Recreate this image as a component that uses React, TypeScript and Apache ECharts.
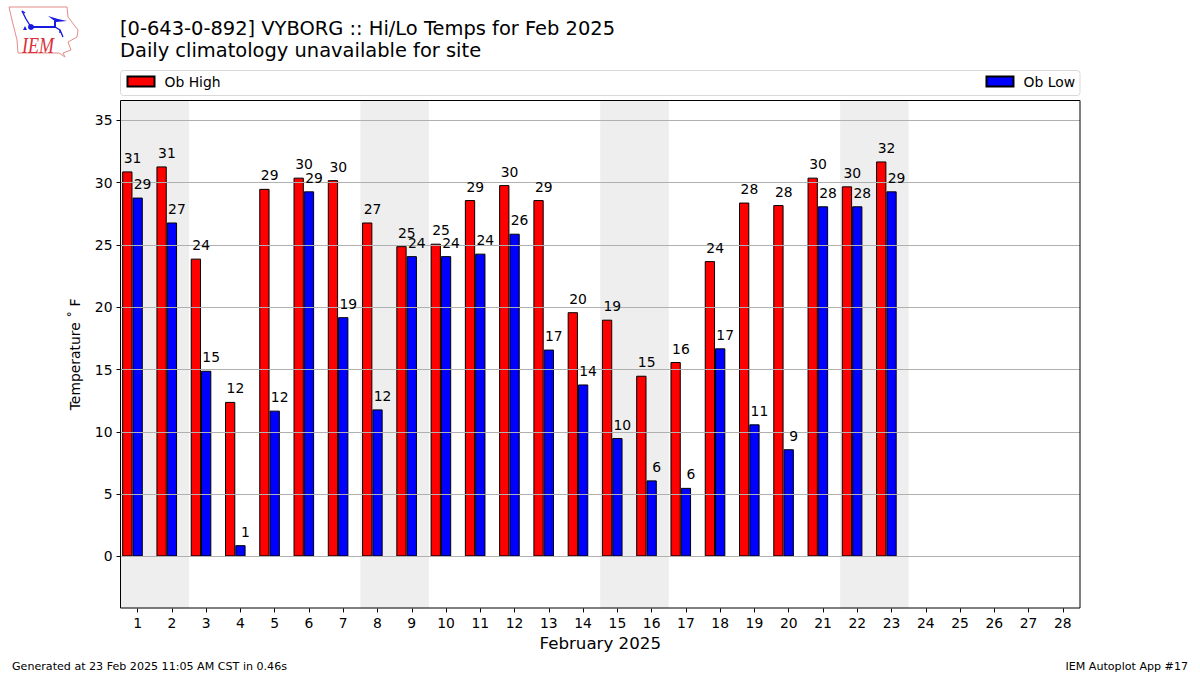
import React, { useEffect, useRef } from "react";
import * as echarts from "echarts";

const FONT = "DejaVu Sans";
const days = ["1","2","3","4","5","6","7","8","9","10","11","12","13","14","15","16","17","18","19","20","21","22","23","24","25","26","27","28"];
const highs = [30.9,31.3,23.9,12.4,29.5,30.4,30.2,26.8,24.9,25.1,28.6,29.8,28.6,19.6,19.0,14.5,15.6,23.7,28.4,28.2,30.4,29.7,31.7];
const lows = [28.8,26.8,14.9,0.9,11.7,29.3,19.2,11.8,24.1,24.1,24.3,25.9,16.6,13.8,9.5,6.1,5.5,16.7,10.6,8.6,28.1,28.1,29.3];
const highLabels = [31,31,24,12,29,30,30,27,25,25,29,30,29,20,19,15,16,24,28,28,30,30,32];
const lowLabels = [29,27,15,1,12,29,19,12,24,24,24,26,17,14,10,6,6,17,11,9,28,28,29];
const weekendStart = ["1","8","15","22"];
const weekendEnd = ["2","9","16","23"];
const yTicks = [0,5,10,15,20,25,30,35];

const BAR_W = 10.3;

function labelSeries(name: string, vals: number[], labels: number[], dx: number) {
  return {
    type: "custom", name, z: 5, silent: true,
    encode: { x: 0, y: 1 },
    data: vals.map((v, i) => [days[i], v, labels[i]]),
    renderItem: (_p: any, api: any) => {
      const pt = api.coord([api.value(0), api.value(1)]);
      return {
        type: "text",
        style: {
          x: pt[0] + dx, y: pt[1] - 13.5,
          text: String(api.value(2)),
          font: `13.9px '${FONT}'`, fill: "#000",
          align: "center", verticalAlign: "middle",
        },
      };
    },
  };
}

export default function App() {
  const ref = useRef<HTMLDivElement>(null);
  useEffect(() => {
    document.body.style.margin = "0";
    const chart = echarts.init(ref.current!, undefined, { renderer: "svg" });
    const barStyle = (c: string) => ({ color: c, borderColor: "#000", borderWidth: 1 });
    const blue = "#1a1ae0";
    const line = (points: number[][], w = 1.4) => ({ type: "polyline", silent: true, shape: { points }, style: { stroke: blue, lineWidth: w, fill: "none" } });
    chart.setOption({
      animation: false,
      backgroundColor: "#fff",
      textStyle: { fontFamily: FONT },
      grid: { left: 120.5, top: 100.4, right: 120, bottom: 66.6, show: false },
      legend: [
        { data: ["Ob High"], left: 126.5, top: 74.5, icon: "rect", itemWidth: 27, itemHeight: 10, itemGap: 10, padding: 0,
          textStyle: { fontSize: 13.9, color: "#000", fontFamily: FONT, padding: [0, 0, 0, 5] } },
        { data: ["Ob Low"], right: 125, top: 74.5, icon: "rect", itemWidth: 27, itemHeight: 10, itemGap: 10, padding: 0,
          textStyle: { fontSize: 13.9, color: "#000", fontFamily: FONT, padding: [0, 0, 0, 5] } },
      ],
      xAxis: {
        type: "category", data: days,
        name: "February 2025", nameLocation: "middle", nameGap: 27,
        nameTextStyle: { fontSize: 16.67, color: "#000", fontFamily: FONT },
        axisLine: { show: false, onZero: false },
        axisTick: { show: true, alignWithLabel: true, length: 4, lineStyle: { color: "#000", width: 1 } },
        axisLabel: { color: "#000", fontSize: 13.9, margin: 8, fontFamily: FONT, interval: 0 },
        splitLine: { show: false },
      },
      yAxis: {
        type: "value", min: -4.174, max: 36.6, z: 3,
        name: "Temperature ˚ F",
        nameLocation: "middle", nameGap: 39,
        nameTextStyle: { fontSize: 13.9, color: "#000", fontFamily: FONT },
        axisLine: { show: false },
        axisTick: { show: true, length: 4, customValues: yTicks, lineStyle: { color: "#000", width: 1 } },
        axisLabel: { color: "#000", fontSize: 13.9, margin: 8, fontFamily: FONT, customValues: yTicks, showMinLabel: true, showMaxLabel: true },
        splitLine: { show: true, lineStyle: { color: "#b0b0b0", width: 1 } },
      },
      series: [
        {
          type: "custom", name: "weekend", z: 1, silent: true,
          encode: { x: [0, 1] },
          data: weekendStart.map((d, i) => [d, weekendEnd[i]]),
          renderItem: (p: any, api: any) => {
            const a = api.coord([api.value(0), 0])[0];
            const b = api.coord([api.value(1), 0])[0];
            const w = api.size([1, 0])[0];
            return {
              type: "rect",
              shape: { x: a - w / 2, y: p.coordSys.y, width: b - a + w, height: p.coordSys.height },
              style: { fill: "#eeeeee" },
            };
          },
        },
        { type: "bar", name: "Ob High", data: highs, barWidth: BAR_W, barGap: 0, z: 2, itemStyle: barStyle("#ff0000") },
        { type: "bar", name: "Ob Low", data: lows, barWidth: BAR_W, barGap: 0, z: 2, itemStyle: barStyle("#0000ff") },
        { type: "bar", name: "spacer", data: [], barWidth: BAR_W, barGap: 0, z: 2, silent: true },
        labelSeries("hl", highs, highLabels, -5),
        labelSeries("ll", lows, lowLabels, 5),
      ],
      graphic: [
        { type: "rect", z: 10, silent: true, shape: { x: 120.5, y: 100.5, width: 959.5, height: 507.5 }, style: { fill: "none", stroke: "#000", lineWidth: 1 } },
        { type: "rect", z: 10, silent: true, shape: { x: 120.5, y: 70.5, width: 959.5, height: 25, r: 3 }, style: { fill: "none", stroke: "#d9d9d9", lineWidth: 1 } },
        { type: "text", x: 120, y: 19, style: { text: "[0-643-0-892] VYBORG :: Hi/Lo Temps for Feb 2025", font: `19.45px '${FONT}'`, fill: "#000" } },
        { type: "text", x: 120, y: 41, style: { text: "Daily climatology unavailable for site", font: `19.45px '${FONT}'`, fill: "#000" } },
        { type: "text", x: 12, y: 661, style: { text: "Generated at 23 Feb 2025 11:05 AM CST in 0.46s", font: `11.1px '${FONT}'`, fill: "#000" } },
        { type: "text", right: 12, top: 661, style: { text: "IEM Autoplot App #17", font: `11.1px '${FONT}'`, fill: "#000" } },
        { type: "polygon", silent: true, shape: { points: [[9,7],[67,7],[68,17],[78,30],[77,37],[68,42],[71,50],[63,53],[65,57],[62,55],[59,53],[18,53],[17,40],[12,20]] }, style: { fill: "#fff", stroke: "#e58b8b", lineWidth: 1 } },
        line([[31,27],[55,27],[55,21]], 2),
        line([[22,11],[26,19],[31,27]]),
        line([[22,11],[25,13]]),
        line([[55,27],[60,30],[63,37]]),
        line([[60,30],[60,33]]),
        { type: "polygon", silent: true, shape: { points: [[48,16],[58,19],[67,21],[56,22]] }, style: { fill: blue } },
        { type: "circle", silent: true, shape: { cx: 31, cy: 27, r: 3 }, style: { fill: blue } },
        { type: "polygon", silent: true, shape: { points: [[25,26],[27,30],[23,30]] }, style: { fill: blue } },
        { type: "text", x: 22, y: 33, scaleX: 0.75, style: { text: "IEM", font: "italic 24px 'Liberation Serif'", fill: "#d9303a" } },
      ],
    });
    return () => chart.dispose();
  }, []);
  return <div ref={ref} style={{ position: "absolute", left: 0, top: 0, width: 1200, height: 675 }} />;
}
